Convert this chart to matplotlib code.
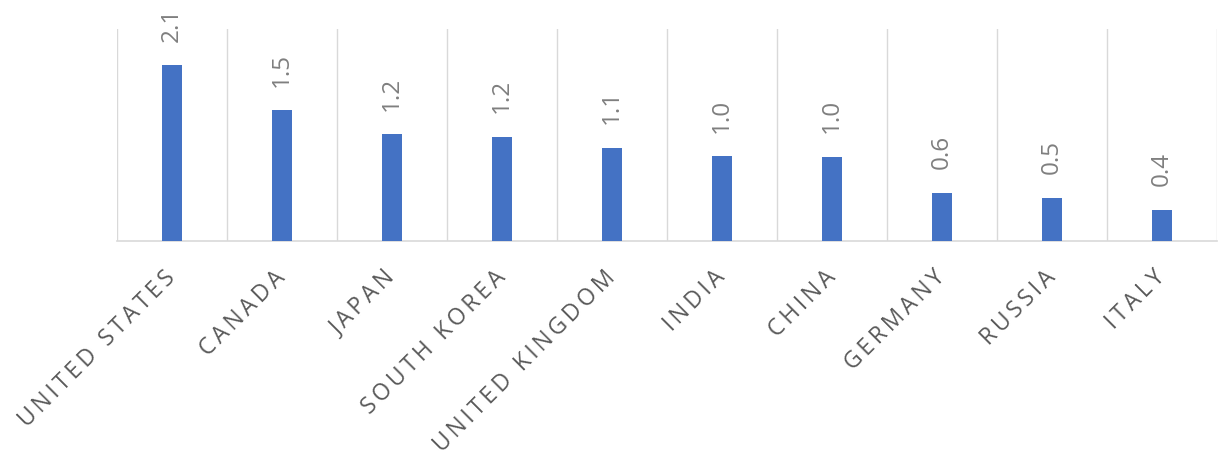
import matplotlib.pyplot as plt
import numpy as np

countries = ["UNITED STATES", "CANADA", "JAPAN", "SOUTH KOREA", "UNITED KINGDOM",
             "INDIA", "CHINA", "GERMANY", "RUSSIA", "ITALY"]
values = [2.07, 1.54, 1.26, 1.23, 1.10, 1.00, 0.99, 0.57, 0.51, 0.37]
labels = ["2.1", "1.5", "1.2", "1.2", "1.1", "1.0", "1.0", "0.6", "0.5", "0.4"]

FONT = ["Open Sans", "DejaVu Sans"]


def spaced(s, gap="\u2009"):
    return gap.join(s)


fig = plt.figure(figsize=(12.19, 4.61), dpi=100)
ax = fig.add_axes([117 / 1219, 1 - 241 / 461, 1100 / 1219, 212 / 461])

x = np.arange(len(countries))
bars = ax.bar(x, values, width=0.18, color="#4472C4", zorder=3)
ax.set_xlim(-0.5, len(countries) - 0.5)
ax.set_ylim(0, 2.5)

for bar, lab in zip(bars, labels):
    ax.annotate(lab, (bar.get_x() + bar.get_width() / 2, bar.get_height()),
                xytext=(0, 17), textcoords="offset points", rotation=90,
                ha="center", va="bottom", fontsize=17.5, color="#7f7f7f", family=FONT)

ax.set_xticks(x)
ax.set_xticklabels([spaced(c) for c in countries], rotation=45, ha="right", va="center",
                   rotation_mode="anchor", fontsize=16.5, color="#595959", family=FONT)
ax.tick_params(axis="x", length=0, pad=24)
ax.set_xticks(np.arange(-0.5, len(countries)), minor=True)
ax.tick_params(axis="x", which="minor", length=0)
ax.grid(axis="x", which="minor", color="#D9D9D9", linewidth=1, zorder=0)
ax.set_yticks([])

for side in ["left", "right", "top"]:
    ax.spines[side].set_visible(False)
ax.spines["bottom"].set_color("#D9D9D9")
ax.spines["bottom"].set_linewidth(1.2)

fig.savefig("out.png", dpi=100)
